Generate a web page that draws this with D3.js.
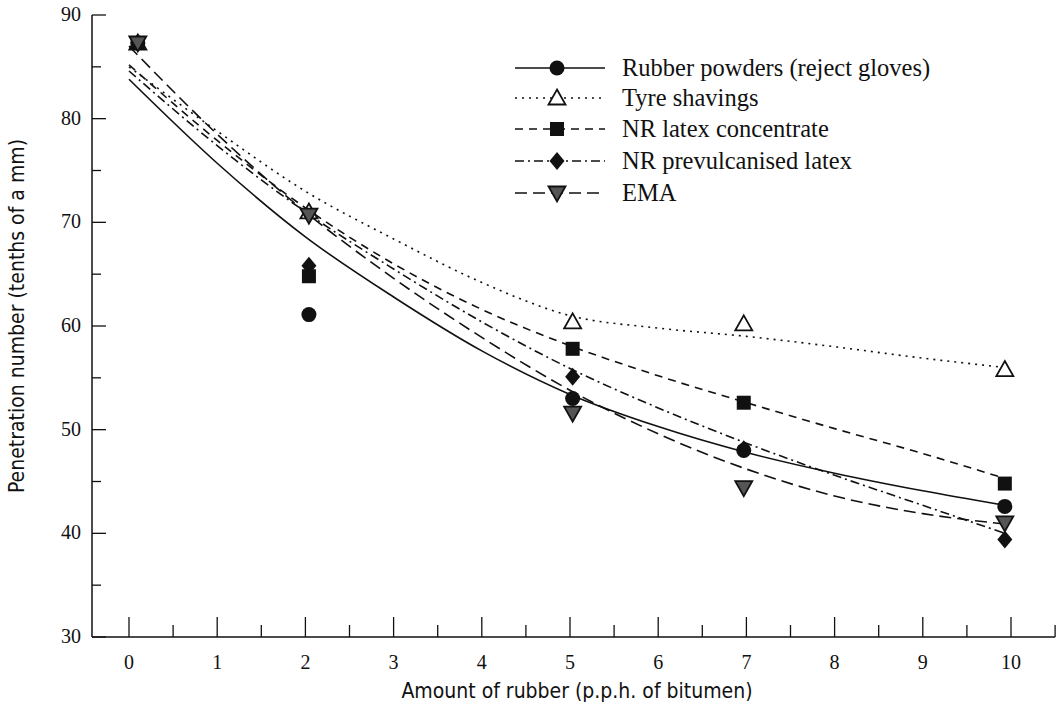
<!DOCTYPE html>
<html>
<head>
<meta charset="utf-8">
<script src="https://cdn.jsdelivr.net/npm/d3@7/dist/d3.min.js"></script>
<style>
  body { margin: 0; background: #fff; }
  svg { display: block; }
  .tick-label { font-family: "Liberation Serif", "DejaVu Serif", serif; font-size: 20px; fill: #111; }
  .axis-title { font-family: "Liberation Sans Narrow", "DejaVu Sans Condensed", sans-serif; font-size: 21px; fill: #111; }
  .legend-label { font-family: "Liberation Serif", "DejaVu Serif", serif; font-size: 24.5px; fill: #111; }
</style>
</head>
<body>
<div id="chart"></div>
<script>
const amounts = [0.1, 2.04, 5.03, 6.97, 9.93];
const rubberPowder = [87.3, 61.1, 53.0, 48.0, 42.6];
const tyreShavings = [87.3, 71.0, 60.4, 60.2, 55.8];
const latexConc = [87.3, 64.8, 57.8, 52.6, 44.8];
const prevulcLatex = [87.3, 65.8, 55.1, 48.1, 39.4];
const ema = [87.3, 70.7, 51.6, 44.4, 41.0];

// fitted curves
const fitX = [0, 1, 2, 3, 4, 5, 6, 7, 8, 9, 9.93];
const rubberFit = [83.8, 75.7, 68.6, 62.8, 57.6, 53.4, 50.3, 47.8, 45.8, 44.1, 42.7];
const tyreFit = [85.0, 78.8, 73.0, 68.4, 64.2, 61.0, 59.8, 59.0, 58.0, 56.9, 56.0];
const latexFit = [85.2, 77.9, 71.4, 66.0, 61.6, 58.1, 55.2, 52.6, 50.1, 47.7, 45.3];
const prevulcFit = [84.6, 77.4, 71.0, 65.5, 60.4, 55.9, 52.1, 48.7, 45.6, 42.7, 40.0];
const emaFit = [87.0, 78.5, 71.0, 64.6, 58.9, 53.8, 49.6, 46.2, 43.6, 41.9, 40.9];

const seriesNames = ["Rubber powders (reject gloves)", "Tyre shavings", "NR latex concentrate", "NR prevulcanised latex", "EMA"];

const xTicks = [0, 1, 2, 3, 4, 5, 6, 7, 8, 9, 10];
const yTicks = [30, 40, 50, 60, 70, 80, 90];

const width = 1064, height = 712;

const series = [
    { name: seriesNames[0], pts: rubberPowder, fit: rubberFit, dash: null, sym: "circle" },
    { name: seriesNames[1], pts: tyreShavings, fit: tyreFit, dash: "2,5", sym: "tri" },
    { name: seriesNames[2], pts: latexConc, fit: latexFit, dash: "8,6", sym: "square" },
    { name: seriesNames[3], pts: prevulcLatex, fit: prevulcFit, dash: "9,4,2,4", sym: "diamond" },
    { name: seriesNames[4], pts: ema, fit: emaFit, dash: "12,6", sym: "down" }
];

const x = d3.scaleLinear().domain([0, 10]).range([129, 1011]);
const y = d3.scaleLinear().domain([30, 90]).range([637, 15]);

const svg = d3.select("#chart").append("svg")
    .attr("width", width)
    .attr("height", height);

svg.append("rect").attr("width", width).attr("height", height).attr("fill", "#fff");

// axes lines
const axisX0 = 92;
svg.append("line")
    .attr("x1", axisX0).attr("x2", axisX0)
    .attr("y1", y(90)).attr("y2", y(30))
    .attr("stroke", "#111").attr("stroke-width", 1.5);
svg.append("line")
    .attr("x1", axisX0).attr("x2", x(10.5))
    .attr("y1", y(30)).attr("y2", y(30))
    .attr("stroke", "#111").attr("stroke-width", 1.5);

// x ticks every half unit, pointing up
const xMinor = d3.range(0, 10.51, 0.5);
svg.append("g").selectAll("line")
    .data(xMinor)
    .enter().append("line")
    .attr("x1", d => x(d)).attr("x2", d => x(d))
    .attr("y1", y(30))
    .attr("y2", d => y(30) - (d % 1 === 0 ? 20 : 12))
    .attr("stroke", "#111").attr("stroke-width", 1.3);

svg.append("g").selectAll("text")
    .data(xTicks)
    .enter().append("text")
    .attr("class", "tick-label")
    .attr("x", d => x(d))
    .attr("y", 669)
    .attr("text-anchor", "middle")
    .text(d => d);

// y ticks every 5, pointing right
const yMinor = d3.range(30, 90.1, 5);
svg.append("g").selectAll("line")
    .data(yMinor)
    .enter().append("line")
    .attr("x1", axisX0)
    .attr("x2", d => axisX0 + (d % 10 === 0 ? 14 : 9))
    .attr("y1", d => y(d)).attr("y2", d => y(d))
    .attr("stroke", "#111").attr("stroke-width", 1.3);

svg.append("g").selectAll("text")
    .data(yTicks)
    .enter().append("text")
    .attr("class", "tick-label")
    .attr("x", 81)
    .attr("y", d => y(d) + 6)
    .attr("text-anchor", "end")
    .text(d => d);

svg.append("text")
    .attr("class", "axis-title")
    .attr("x", 577).attr("y", 698)
    .attr("text-anchor", "middle")
    .text("Amount of rubber (p.p.h. of bitumen)");

svg.append("text")
    .attr("class", "axis-title")
    .attr("transform", "translate(24,316) rotate(-90)")
    .attr("text-anchor", "middle")
    .text("Penetration number (tenths of a mm)");

// curves
const line = d3.line()
    .x(d => x(d[0]))
    .y(d => y(d[1]))
    .curve(d3.curveMonotoneX);

svg.append("g").selectAll("path")
    .data(series)
    .enter().append("path")
    .attr("d", s => line(fitX.map((v, i) => [v, s.fit[i]])))
    .attr("fill", "none")
    .attr("stroke", "#111")
    .attr("stroke-width", 1.6)
    .attr("stroke-dasharray", s => s.dash);

function drawSymbol(g, sym, cx, cy) {
    if (sym === "circle") {
        g.append("circle").attr("cx", cx).attr("cy", cy).attr("r", 7.5).attr("fill", "#111");
    } else if (sym === "square") {
        g.append("rect").attr("x", cx - 7).attr("y", cy - 7).attr("width", 14).attr("height", 14).attr("fill", "#111");
    } else if (sym === "diamond") {
        g.append("path").attr("d", `M${cx},${cy - 9}L${cx + 7.5},${cy}L${cx},${cy + 9}L${cx - 7.5},${cy}Z`).attr("fill", "#111");
    } else if (sym === "tri") {
        g.append("path").attr("d", `M${cx},${cy - 8.5}L${cx + 8.5},${cy + 6.5}L${cx - 8.5},${cy + 6.5}Z`)
            .attr("fill", "#fff").attr("stroke", "#111").attr("stroke-width", 1.8);
    } else if (sym === "down") {
        g.append("path").attr("d", `M${cx - 8.5},${cy - 6.5}L${cx + 8.5},${cy - 6.5}L${cx},${cy + 8.5}Z`)
            .attr("fill", "#555").attr("stroke", "#111").attr("stroke-width", 1.8);
    }
}

// markers, drawn in an order that keeps the overlaps similar
const order = [1, 2, 3, 0, 4];
const markers = svg.append("g");
order.forEach(si => {
    const s = series[si];
    s.pts.forEach((v, i) => drawSymbol(markers, s.sym, x(amounts[i]), y(v)));
});

// legend
const legend = svg.append("g");
const legendY = [68, 98, 129, 161, 193];
series.forEach((s, i) => {
    const ly = legendY[i];
    legend.append("line")
        .attr("x1", 515).attr("x2", 605)
        .attr("y1", ly).attr("y2", ly)
        .attr("stroke", "#111").attr("stroke-width", 1.6)
        .attr("stroke-dasharray", s.dash);
    drawSymbol(legend, s.sym, 557, ly);
    legend.append("text")
        .attr("class", "legend-label")
        .attr("x", 622).attr("y", ly + 8)
        .text(s.name);
});
</script>
</body>
</html>
